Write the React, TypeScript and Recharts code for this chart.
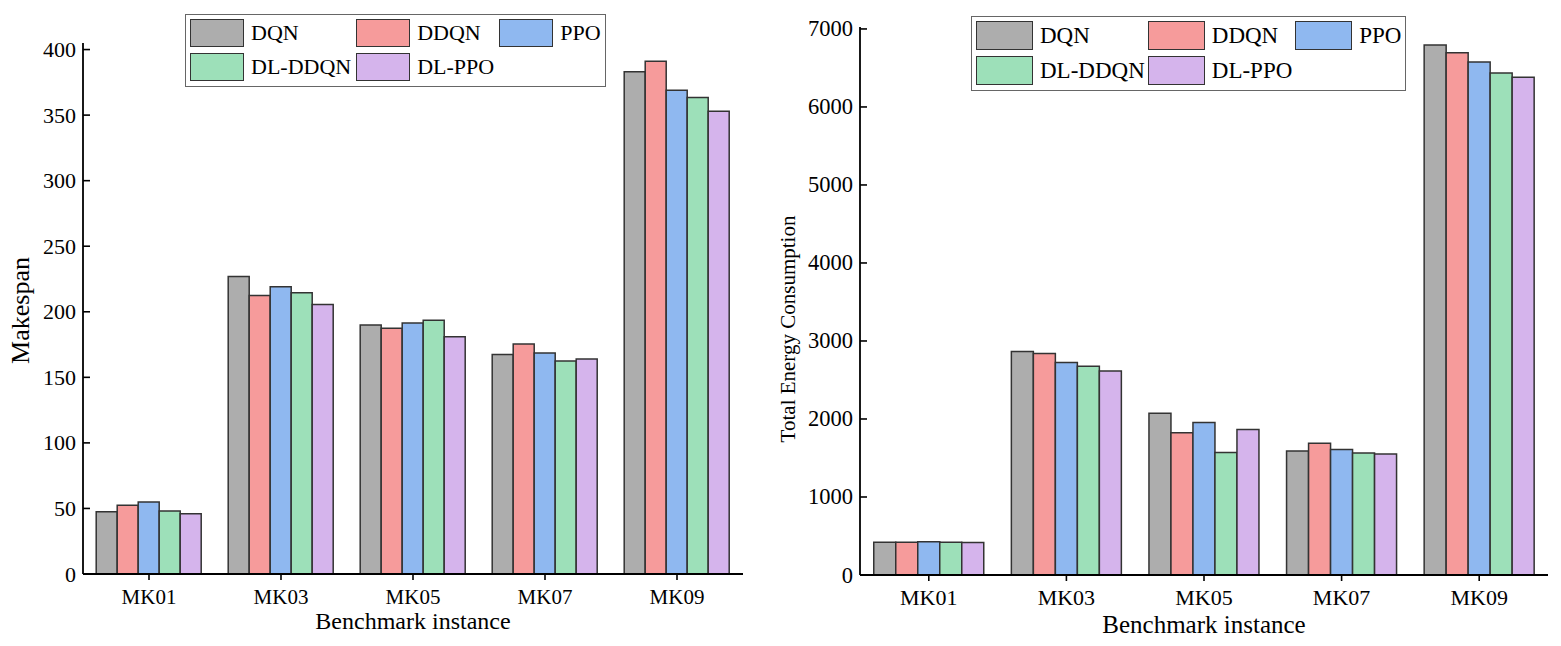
import { Bar, BarChart, Legend, XAxis, YAxis } from 'recharts';

const CATEGORIES = ['MK01', 'MK03', 'MK05', 'MK07', 'MK09'];
const SERIES_NAMES = ['DQN', 'DDQN', 'PPO', 'DL-DDQN', 'DL-PPO'];
const COLORS = ['#adadad', '#f69b9b', '#8fb8f0', '#9de0b9', '#d5b4ec'];

// makespan per instance, one array per algorithm
const MAKESPAN_DQN = [47.5, 227, 190, 167.5, 383];
const MAKESPAN_DDQN = [52.5, 212.5, 187.5, 175.5, 391];
const MAKESPAN_PPO = [55, 219, 191.5, 168.5, 369];
const MAKESPAN_DLDDQN = [48, 214.5, 193.5, 162.5, 363.5];
const MAKESPAN_DLPPO = [46, 205.5, 181, 164, 353];

// total energy consumption per instance
const ENERGY_DQN = [420, 2865, 2075, 1590, 6795];
const ENERGY_DDQN = [420, 2840, 1825, 1690, 6695];
const ENERGY_PPO = [427, 2725, 1955, 1610, 6575];
const ENERGY_DLDDQN = [420, 2675, 1570, 1565, 6435];
const ENERGY_DLPPO = [418, 2615, 1865, 1550, 6380];

const MAKESPAN_TICKS = [0, 50, 100, 150, 200, 250, 300, 350, 400];
const ENERGY_TICKS = [0, 1000, 2000, 3000, 4000, 5000, 6000, 7000];

const FONT = '"Liberation Serif", "Times New Roman", serif';

function buildRows(series: number[][]) {
  return CATEGORIES.map((cat, i) => {
    const row: Record<string, string | number> = { name: cat };
    SERIES_NAMES.forEach((s, j) => {
      row[s] = series[j][i];
    });
    return row;
  });
}

const makespanData = buildRows([MAKESPAN_DQN, MAKESPAN_DDQN, MAKESPAN_PPO, MAKESPAN_DLDDQN, MAKESPAN_DLPPO]);
const energyData = buildRows([ENERGY_DQN, ENERGY_DDQN, ENERGY_PPO, ENERGY_DLDDQN, ENERGY_DLPPO]);

// y ticks point inwards in the original, so draw the tick line ourselves
const makeYTick = (fontSize: number) => (props: any) => {
  const { x, y, payload } = props;
  return (
    <g>
      <line x1={x + 7} x2={x + 14} y1={y} y2={y} stroke="#000" strokeWidth={1.6} />
      <text x={x} y={y} textAnchor="end" dominantBaseline="central" style={{ fontSize, fontFamily: FONT }} fill="#000">
        {payload.value}
      </text>
    </g>
  );
};

interface ILegendProps {
  payload?: any[];
  swW: number;
  swH: number;
  fontSize: number;
  colGap: number;
}

function LegendBox({ payload = [], swW, swH, fontSize, colGap }: ILegendProps) {
  // keep the series order (recharts sorts legend items by name)
  const items = [...payload].sort((a, b) => SERIES_NAMES.indexOf(a.value) - SERIES_NAMES.indexOf(b.value));
  return (
    <div
      style={{
        border: '1px solid #666',
        background: '#fff',
        display: 'grid',
        gridTemplateColumns: 'auto auto auto',
        columnGap: colGap,
        rowGap: 6,
        padding: '4px 4px 5px 4px',
        fontFamily: FONT,
        fontSize,
        color: '#000',
      }}
    >
      {items.map((p: any) => (
        <div key={p.value} style={{ display: 'flex', alignItems: 'center', gap: 7, lineHeight: 1 }}>
          <span
            style={{
              width: swW,
              height: swH,
              background: p.color,
              border: '1.5px solid #333',
              boxSizing: 'border-box',
              display: 'inline-block',
            }}
          />
          <span>{p.value}</span>
        </div>
      ))}
    </div>
  );
}

export default function App() {
  return (
    <div style={{ position: 'absolute', left: 0, top: 0, width: 1561, height: 646, background: '#fff', fontFamily: FONT }}>
      <div style={{ position: 'absolute', left: 0, top: 0 }}>
        <BarChart
          width={770}
          height={646}
          data={makespanData}
          margin={{ top: 43, right: 27, bottom: 12, left: 23 }}
          barCategoryGap="10%"
          barGap={0}
        >
          <XAxis
            dataKey="name"
            height={60}
            axisLine={{ stroke: '#000', strokeWidth: 1.8 }}
            tickLine={{ stroke: '#000', strokeWidth: 1.6 }}
            tickSize={6}
            tickMargin={9}
            tick={{ fontSize: 21, fontFamily: FONT, fill: '#000' }}
            label={{
              content: (props: any) => {
                const vb = props.viewBox;
                return (
                  <text x={vb.x + vb.width / 2} y={vb.y + 55} textAnchor="middle" style={{ fontSize: 24, fontFamily: FONT }} fill="#000">
                    Benchmark instance
                  </text>
                );
              },
            }}
          />
          <YAxis
            width={60}
            domain={[0, 405]}
            ticks={MAKESPAN_TICKS}
            interval={0}
            axisLine={{ stroke: '#000', strokeWidth: 1.8 }}
            tickLine={false}
            tickSize={0}
            tickMargin={7}
            tick={makeYTick(22)}
            label={{
              content: (props: any) => {
                const vb = props.viewBox;
                const cx = vb.x + 6;
                const cy = vb.y + vb.height / 2 + 2;
                return (
                  <text x={cx} y={cy} transform={`rotate(-90 ${cx} ${cy})`} textAnchor="middle" style={{ fontSize: 26, fontFamily: FONT }} fill="#000">
                    Makespan
                  </text>
                );
              },
            }}
          />
          <Legend
            layout="vertical"
            align="center"
            verticalAlign="middle"
            wrapperStyle={{ left: 185, top: 14, right: 'auto', bottom: 'auto', width: 'auto', height: 'auto' }}
            content={(props: any) => <LegendBox payload={props.payload} swW={54} swH={28} fontSize={22} colGap={5} />}
          />
          {SERIES_NAMES.map((s, i) => (
            <Bar key={s} dataKey={s} name={s} fill={COLORS[i]} stroke="#333" strokeWidth={1.5} isAnimationActive={false} />
          ))}
        </BarChart>
      </div>
      <div style={{ position: 'absolute', left: 770, top: 0 }}>
        <BarChart
          width={791}
          height={646}
          data={energyData}
          margin={{ top: 27, right: 13, bottom: 11, left: 20 }}
          barCategoryGap="10%"
          barGap={0}
        >
          <XAxis
            dataKey="name"
            height={60}
            axisLine={{ stroke: '#000', strokeWidth: 1.8 }}
            tickLine={{ stroke: '#000', strokeWidth: 1.6 }}
            tickSize={6}
            tickMargin={8}
            tick={{ fontSize: 22, fontFamily: FONT, fill: '#000' }}
            label={{
              content: (props: any) => {
                const vb = props.viewBox;
                return (
                  <text x={vb.x + vb.width / 2} y={vb.y + 58} textAnchor="middle" style={{ fontSize: 25, fontFamily: FONT }} fill="#000">
                    Benchmark instance
                  </text>
                );
              },
            }}
          />
          <YAxis
            width={70}
            domain={[0, 7025]}
            ticks={ENERGY_TICKS}
            interval={0}
            axisLine={{ stroke: '#000', strokeWidth: 1.8 }}
            tickLine={false}
            tickSize={0}
            tickMargin={7}
            tick={makeYTick(22.5)}
            label={{
              content: (props: any) => {
                const vb = props.viewBox;
                const cx = vb.x + 5;
                const cy = vb.y + vb.height / 2 + 28;
                return (
                  <text x={cx} y={cy} transform={`rotate(-90 ${cx} ${cy})`} textAnchor="middle" style={{ fontSize: 21, fontFamily: FONT }} fill="#000">
                    Total Energy Consumption
                  </text>
                );
              },
            }}
          />
          <Legend
            layout="vertical"
            align="center"
            verticalAlign="middle"
            wrapperStyle={{ left: 201, top: 16, right: 'auto', bottom: 'auto', width: 'auto', height: 'auto' }}
            content={(props: any) => <LegendBox payload={props.payload} swW={57} swH={29} fontSize={23} colGap={3} />}
          />
          {SERIES_NAMES.map((s, i) => (
            <Bar key={s} dataKey={s} name={s} fill={COLORS[i]} stroke="#333" strokeWidth={1.5} isAnimationActive={false} />
          ))}
        </BarChart>
      </div>
    </div>
  );
}
